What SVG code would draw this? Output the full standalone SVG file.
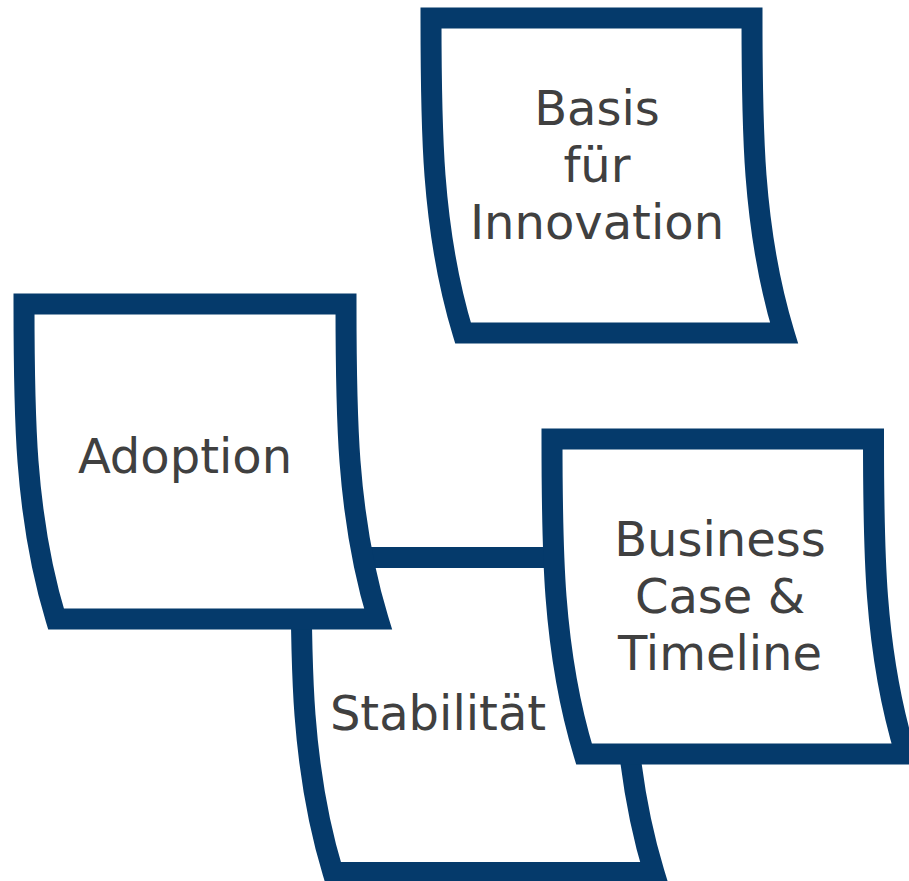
<svg xmlns="http://www.w3.org/2000/svg" width="909" height="881" viewBox="0 0 909 881">
  <style>
    .note { fill: #ffffff; stroke: #053A6B; stroke-width: 21; stroke-linejoin: miter; stroke-miterlimit: 10; }
    .lbl { font-family: "DejaVu Sans", Verdana, sans-serif; font-size: 48px; fill: #404040; text-anchor: middle; }
  </style>
  <rect width="909" height="881" fill="#ffffff"/>
  <g id="connectors"/>
  <g id="basis">
    <path class="note" d="M431,18 H752 C752,123 752,228 784,333 H463 C431,228 431,123 431,18 Z"/>
    <text class="lbl" x="597" y="125">Basis</text>
    <text class="lbl" x="597" y="182">für</text>
    <text class="lbl" x="597" y="239">Innovation</text>
  </g>
  <g id="stabilitaet">
    <path class="note" d="M301,557.5 H622 C622,662.5 622,767.5 654,872.5 H333 C301,767.5 301,662.5 301,557.5 Z"/>
    <text class="lbl" x="438" y="730">Stabilität</text>
  </g>
  <g id="adoption">
    <path class="note" d="M24,304 H346 C346,409 346,514 378,619 H56 C24,514 24,409 24,304 Z"/>
    <text class="lbl" x="185" y="473">Adoption</text>
  </g>
  <g id="business">
    <path class="note" d="M552,439 H873.5 C873.5,544 873.5,649 905.5,754 H584 C552,649 552,544 552,439 Z"/>
    <text class="lbl" x="720" y="556">Business</text>
    <text class="lbl" x="720" y="613">Case &amp;</text>
    <text class="lbl" x="720" y="670">Timeline</text>
  </g>
</svg>
